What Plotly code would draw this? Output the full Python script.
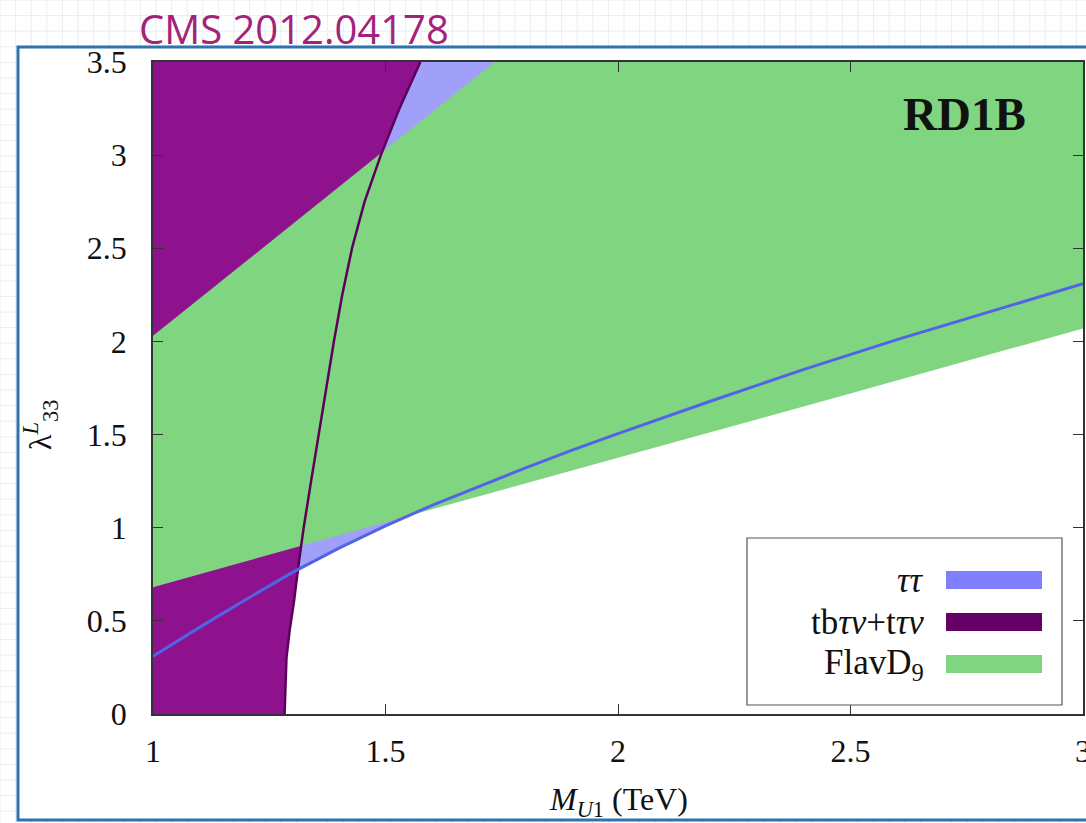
import plotly.graph_objects as go

# ---- values -------------------------------------------------------------
# ττ limit: coupling vs. leptoquark mass (excluded above the curve)
mass_tt = [1.0, 1.1, 1.2, 1.3, 1.4, 1.5, 1.6, 1.7, 1.8, 1.9, 2.0, 2.2, 2.4, 2.6, 2.8, 3.0]
lam_tt = [0.31, 0.465, 0.615, 0.76, 0.89, 1.01, 1.12, 1.22, 1.32, 1.415, 1.505, 1.68, 1.85, 2.01, 2.16, 2.31]

# tbτν + tτν limit: excluded to the left of the contour
lam_tb = [0.0, 0.3, 0.45, 0.6, 0.8, 1.0, 1.25, 1.5, 1.75, 2.0, 2.25, 2.5, 2.75, 3.0, 3.25, 3.5]
mass_tb = [1.283, 1.287, 1.294, 1.303, 1.313, 1.324, 1.340, 1.356, 1.372, 1.389, 1.407, 1.428, 1.455, 1.490, 1.530, 1.575]

# FlavD9 preferred band
mass_fl_low = [1.0, 1.5, 2.0, 2.5, 3.0]
lam_fl_low = [0.68, 1.03, 1.375, 1.72, 2.07]
mass_fl_up = [1.0, 1.25, 1.5, 1.735, 3.0]
lam_fl_up = [2.03, 2.53, 3.03, 3.5, 3.5]

x_ticks = [1, 1.5, 2, 2.5, 3]
x_ticktext = ["1", "1.5", "2", "2.5", "3"]
y_ticks = [0, 0.5, 1, 1.5, 2, 2.5, 3, 3.5]
y_ticktext = ["0", "0.5", "1", "1.5", "2", "2.5", "3", "3.5"]

X_MIN, X_MAX = 1.0, 3.0
Y_MIN, Y_MAX = 0.0, 3.5

legend_labels = ["<i>ττ</i>", "tb<i>τν</i>+t<i>τν</i>", "FlavD<sub>9</sub>"]
legend_colors = ["#8080FF", "#660066", "#80D580"]

# ---- styles ------------------------------------------------------------
C_TT = "#A0A0F8"
C_TB = "#8E128E"
C_TB_EDGE = "#5C005C"
C_FL = "#80D580"
C_LINE = "#5264E6"
SERIF = "Liberation Serif, Times New Roman, serif"

W, H = 1086, 823
ML, MR, MT, MB = 153, 3, 62, 109
PW, PH = W - ML - MR, H - MT - MB


def px(x):
    return (x - ML) / PW


def py(y):
    return (H - MB - y) / PH


fig = go.Figure()

# ττ excluded region (above the curve)
fig.add_trace(go.Scatter(
    x=mass_tt + [X_MAX, X_MIN], y=lam_tt + [Y_MAX, Y_MAX],
    fill="toself", fillcolor=C_TT, mode="none", hoverinfo="skip", showlegend=False))

# tbτν + tτν excluded region (left of the contour)
fig.add_trace(go.Scatter(
    x=[X_MIN] + mass_tb + [X_MIN], y=[Y_MIN] + lam_tb + [Y_MAX],
    fill="toself", fillcolor=C_TB, mode="none", hoverinfo="skip", showlegend=False))

# FlavD9 band
band_x = mass_fl_low + [X_MAX] + mass_fl_up[::-1]
band_y = lam_fl_low + [Y_MAX] + lam_fl_up[::-1]
fig.add_trace(go.Scatter(
    x=band_x, y=band_y, fill="toself", fillcolor=C_FL, mode="none",
    hoverinfo="skip", showlegend=False))

# contour edge of the tbτν + tτν region
fig.add_trace(go.Scatter(
    x=mass_tb, y=lam_tb, mode="lines", line=dict(color=C_TB_EDGE, width=2.5),
    hoverinfo="skip", showlegend=False))

# ττ limit curve
fig.add_trace(go.Scatter(
    x=mass_tt, y=lam_tt, mode="lines", line=dict(color=C_LINE, width=3),
    hoverinfo="skip", showlegend=False))

# ---- page decoration: graph-paper background and slide frame ------------
shapes = []
GRID = 15.6
g = 0.0
while g <= W:
    shapes.append(dict(type="line", xref="paper", yref="paper", x0=px(g), x1=px(g),
                       y0=py(0), y1=py(H), line=dict(color="#E6EEF4", width=1), layer="below"))
    g += GRID
g = 0.0
while g <= H:
    shapes.append(dict(type="line", xref="paper", yref="paper", x0=px(0), x1=px(W),
                       y0=py(g), y1=py(g), line=dict(color="#E6EEF4", width=1), layer="below"))
    g += GRID
shapes.append(dict(type="rect", xref="paper", yref="paper", x0=px(18), x1=px(W + 10),
                   y0=py(820), y1=py(47), fillcolor="white",
                   line=dict(color="#2E72B0", width=3), layer="below"))

# legend box and swatches
shapes.append(dict(type="rect", xref="paper", yref="paper", x0=px(747), x1=px(1062),
                   y0=py(705), y1=py(538), fillcolor="white",
                   line=dict(color="#555555", width=1.2), layer="above"))
row_y = [580, 622, 664]
for cy, col in zip(row_y, legend_colors):
    shapes.append(dict(type="rect", xref="paper", yref="paper", x0=px(946), x1=px(1042),
                       y0=py(cy + 9), y1=py(cy - 9), fillcolor=col,
                       line=dict(width=0), layer="above"))

annotations = []
for cy, lab in zip(row_y, legend_labels):
    annotations.append(dict(xref="paper", yref="paper", x=px(926), y=py(cy),
                            xanchor="right", yanchor="middle", text=lab, showarrow=False,
                            font=dict(family=SERIF, size=35, color="#111111")))

annotations.append(dict(xref="paper", yref="paper", x=px(964), y=py(114),
                        xanchor="center", yanchor="middle", text="<b>RD1B</b>",
                        showarrow=False, font=dict(family=SERIF, size=47, color="#111111")))

annotations.append(dict(xref="paper", yref="paper", x=px(137), y=py(28),
                        xanchor="left", yanchor="middle", text="CMS 2012.04178",
                        showarrow=False, font=dict(family="Open Sans, sans-serif", size=40,
                                                   color="#A3237A")))

annotations.append(dict(xref="paper", yref="paper", x=px(618), y=py(801),
                        xanchor="center", yanchor="middle",
                        text="<i>M</i><sub><i>U</i>1</sub> (TeV)",
                        showarrow=False, font=dict(family=SERIF, size=32, color="#111111")))

annotations.append(dict(xref="paper", yref="paper", x=px(40), y=py(425),
                        xanchor="center", yanchor="middle", textangle=-90,
                        text="λ<sup><i>L</i></sup><sub>33</sub>",
                        showarrow=False, font=dict(family=SERIF, size=32, color="#111111")))

axis_common = dict(showgrid=False, zeroline=False, showline=True, linecolor="#333333",
                   linewidth=1.5, mirror="ticks", ticks="inside", ticklen=10,
                   tickwidth=1.3, tickcolor="#333333", ticklabeloverflow="allow",
                   automargin=False,
                   tickfont=dict(family=SERIF, size=32, color="#111111"))

fig.update_layout(
    width=W, height=H,
    margin=dict(l=ML, r=MR, t=MT, b=MB, pad=0, autoexpand=False),
    paper_bgcolor="white", plot_bgcolor="white",
    xaxis=dict(range=[X_MIN, X_MAX], tickvals=x_ticks, ticktext=x_ticktext,
               ticklabelstandoff=8, **axis_common),
    yaxis=dict(range=[Y_MIN, Y_MAX], tickvals=y_ticks, ticktext=y_ticktext,
               ticklabelstandoff=18, **axis_common),
    shapes=shapes,
    annotations=annotations,
    showlegend=False,
)

fig.write_html("out.html")
